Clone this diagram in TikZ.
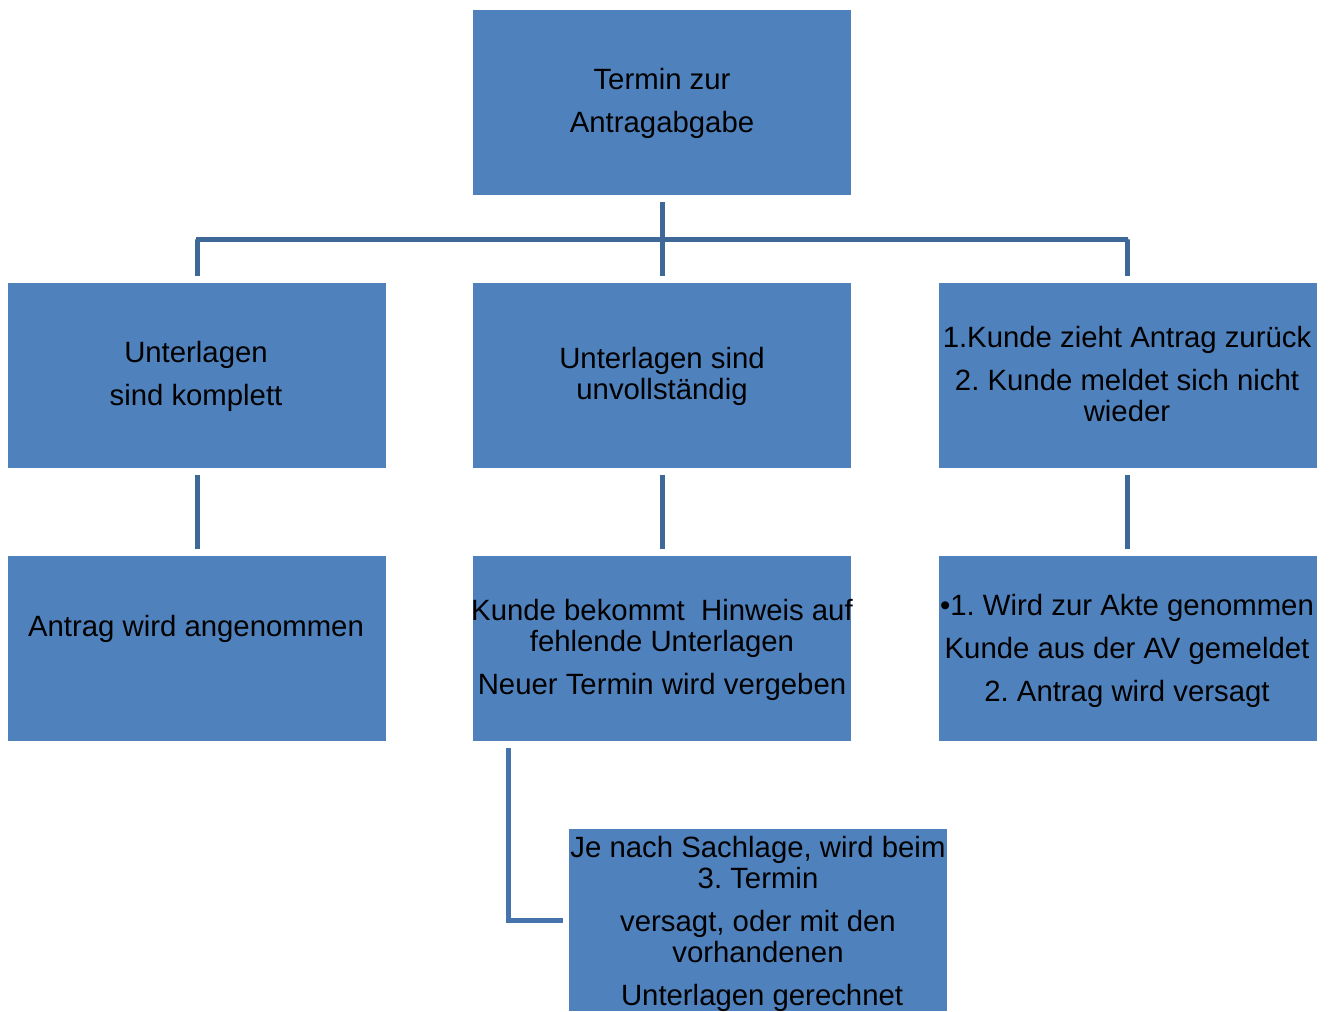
\documentclass[tikz,border=0pt]{standalone}
\usepackage{fontspec}
\setmainfont{Liberation Sans}
\frenchspacing
\definecolor{boxblue}{HTML}{4F81BD}
\definecolor{lineblue}{HTML}{3E6898}
\definecolor{lineblue2}{HTML}{4773AC}
\begin{document}
\begin{tikzpicture}[x=0.75pt,y=-0.75pt,
  box/.style={fill=boxblue,draw=none,minimum width=283.5pt,minimum height=138.75pt,inner sep=0pt,outer sep=0pt},
  txt/.style={align=center,inner sep=0pt,font=\fontsize{22}{23.25}\selectfont,text=black},
  conn/.style={draw=lineblue,line width=3.75pt,line join=miter},
  conn2/.style={draw=lineblue2,line width=3.75pt,line join=miter}]
\useasboundingbox (0,0) rectangle (1332,1011);
% boxes
\node[box] (top) at (662,102.5) {};
\node[box] (b1) at (197,375.5) {};
\node[box] (b2) at (662,375.5) {};
\node[box] (b3) at (1127.5,375.5) {};
\node[box] (c1) at (197,648.5) {};
\node[box] (c2) at (662,648.5) {};
\node[box] (c3) at (1127.5,648.5) {};
\node[box,minimum height=136.5pt] (d) at (758,920) {};
% texts
\node[txt] (ttop) at (662,103.5) {Termin zur\\[9pt]Antragabgabe};
\node[txt] (tb1) at (196,376.5) {Unterlagen\\[9pt]sind komplett};
\node[txt] (tb2) at (662,376.5) {Unterlagen sind\\unvollständig};
\node[txt] (tb3) at (1127,374.5) {1.Kunde zieht Antrag zurück\\[9pt]2. Kunde meldet sich nicht\\wieder};
\node[txt] (tc1) at (196,629) {Antrag wird angenommen};
\node[txt] (tc2) at (662,649.5) {Kunde bekommt\ \ Hinweis auf\\fehlende Unterlagen\\[9pt]Neuer Termin wird vergeben};
\node[txt] (tc3) at (1127,650.5) {\textbullet1. Wird zur Akte genommen\\[9pt]Kunde aus der AV gemeldet\\[9pt]2. Antrag wird versagt};
\node[txt] (td) at (758,923.5) {Je nach Sachlage, wird beim\\3. Termin\\[9pt]versagt, oder mit den\\vorhandenen\\[9pt]\ Unterlagen gerechnet};
% connectors
\coordinate (jt) at (662,239);
\coordinate (jl) at (196,239);
\coordinate (jr) at (1128,239);
\draw[conn,shorten <=5.25pt] (top.south) -- (jt);
\draw[conn,shorten >=5.25pt] (jt) -- (b2.north);
\draw[conn,shorten <=5.25pt,shorten >=5.25pt] (b1.north) |- (jl) -- (jr) -| (b3.north);
\draw[conn,shorten <=5.25pt,shorten >=5.25pt] (b1.south) -- (c1.north);
\draw[conn,shorten <=5.25pt,shorten >=5.25pt] (b2.south) -- (c2.north);
\draw[conn,shorten <=5.25pt,shorten >=5.25pt] (b3.south) -- (c3.north);
\draw[conn2,shorten <=5.25pt,shorten >=4.5pt] ([xshift=26.25pt]c2.south west) |- (d.west);
\end{tikzpicture}
\end{document}
